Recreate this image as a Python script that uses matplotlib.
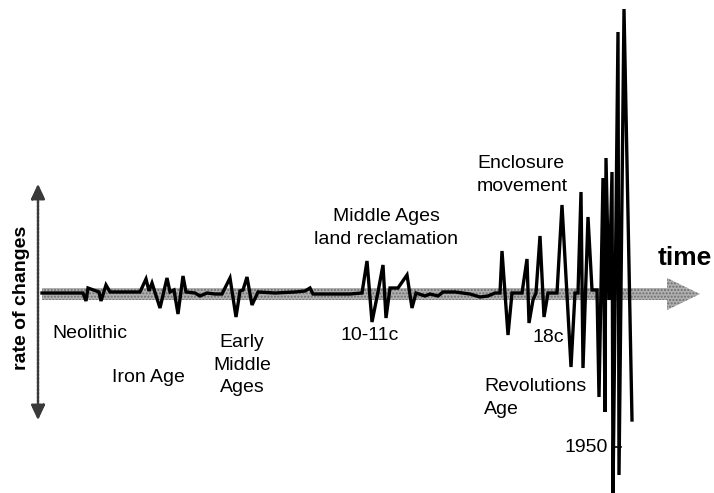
import matplotlib
matplotlib.use("Agg")
import matplotlib.pyplot as plt
from matplotlib.patches import FancyArrow, FancyArrowPatch

# ---- data: schematic "rate of changes" trace over time ----
time_x = [42, 83, 86, 88, 99, 101, 106, 110, 140, 146, 149, 152, 160, 167, 170, 174, 178, 183,
          186, 195, 200, 207, 215, 222, 230, 236, 240, 243, 247, 252, 258, 275, 295, 305, 310,
          313, 330, 350, 362, 367, 372, 378, 383, 386, 390, 398, 407, 412, 416, 425, 430, 438,
          443, 455, 470, 480, 488, 495, 500, 502, 508, 512, 522, 527, 529, 533, 536, 540, 544,
          548, 557, 562, 571, 575, 578, 581, 583, 588, 592, 597, 599, 603, 605, 606, 609, 612,
          613, 618, 619, 624, 632]
rate_px = [293, 293, 301, 288, 292, 301, 285, 292, 292, 279, 291, 283, 308, 278, 292, 290, 314, 276,
           292, 293, 296, 293, 294, 294, 278, 317, 291, 290, 277, 305, 292, 293, 292, 291, 288,
           294, 294, 294, 293, 261, 322, 292, 265, 318, 288, 288, 275, 308, 293, 296, 294, 296,
           292, 292, 294, 297, 296, 293, 293, 251, 335, 293, 293, 259, 323, 300, 293, 236, 317,
           293, 293, 205, 367, 293, 293, 192, 368, 217, 290, 290, 397, 178, 412, 158, 300, 172,
           495, 32, 475, 9, 420]
BASE = 294
rate_y = [BASE - p for p in rate_px]   # deviation from the steady baseline

labels = ["Neolithic", "Iron Age", "Early\nMiddle\nAges", "10-11c",
          "Middle Ages\nland reclamation", "Enclosure\nmovement", "18c",
          "Revolutions\nAge", "1950"]

plt.rcParams['font.family'] = ['Liberation Sans', 'DejaVu Sans']

fig = plt.figure(figsize=(7.14, 4.93), dpi=100)
ax = fig.add_axes([0, 0, 1, 1])
ax.set_xlim(0, 714)
ax.set_ylim(BASE - 493, BASE)
ax.axis('off')

# grey time arrow
ax.add_patch(FancyArrow(42, 0, 658, 0, width=12, head_width=32, head_length=33,
                        length_includes_head=True, facecolor='#b0b0b0', edgecolor='#b0b0b0',
                        lw=0, zorder=1))
ax.add_patch(FancyArrow(42, 0, 658, 0, width=12, head_width=32, head_length=33,
                        length_includes_head=True, facecolor='none', edgecolor='#6e6e6e',
                        hatch='.....', lw=0, zorder=1))

# vertical double arrow
ax.add_patch(FancyArrowPatch((38, BASE - 423), (38, BASE - 181),
                             arrowstyle='<|-|>,head_length=0.9,head_width=0.42',
                             mutation_scale=10, color='#3a3a3a', lw=1.8,
                             linestyle=(0, (1, 0.5)), zorder=2))

# trace
ax.plot(time_x, rate_y, color='black', lw=2.4, solid_joinstyle='miter', zorder=3)

fs = 14
LS = 1.4
def t(x, y, s, **kw):
    ax.text(x, BASE - y, s, fontsize=kw.pop('fs', fs), **kw)

t(52, 333, labels[0], ha='left', va='center')
t(112, 378, labels[1], ha='left', va='center')
t(242, 365, labels[2], ha='center', va='center', linespacing=LS)
t(386, 228, labels[4], ha='center', va='center', linespacing=LS)
t(370, 336, labels[3], ha='center', va='center')
t(477, 175, labels[5], ha='left', va='center', linespacing=LS)
t(548, 337, labels[6], ha='center', va='center')
t(484, 398, labels[7], ha='left', va='center', linespacing=LS)
t(608, 447, labels[8], ha='right', va='center')
ax.plot([613, 621], [BASE - 447, BASE - 447], color='black', lw=1.2, zorder=4)
t(685, 258, "time", ha='center', va='center', fs=19, fontweight='bold')
t(22, 298, "rate of changes", ha='center', va='center', fs=14, fontweight='bold',
  rotation=90)

fig.savefig("out.png", dpi=100)
